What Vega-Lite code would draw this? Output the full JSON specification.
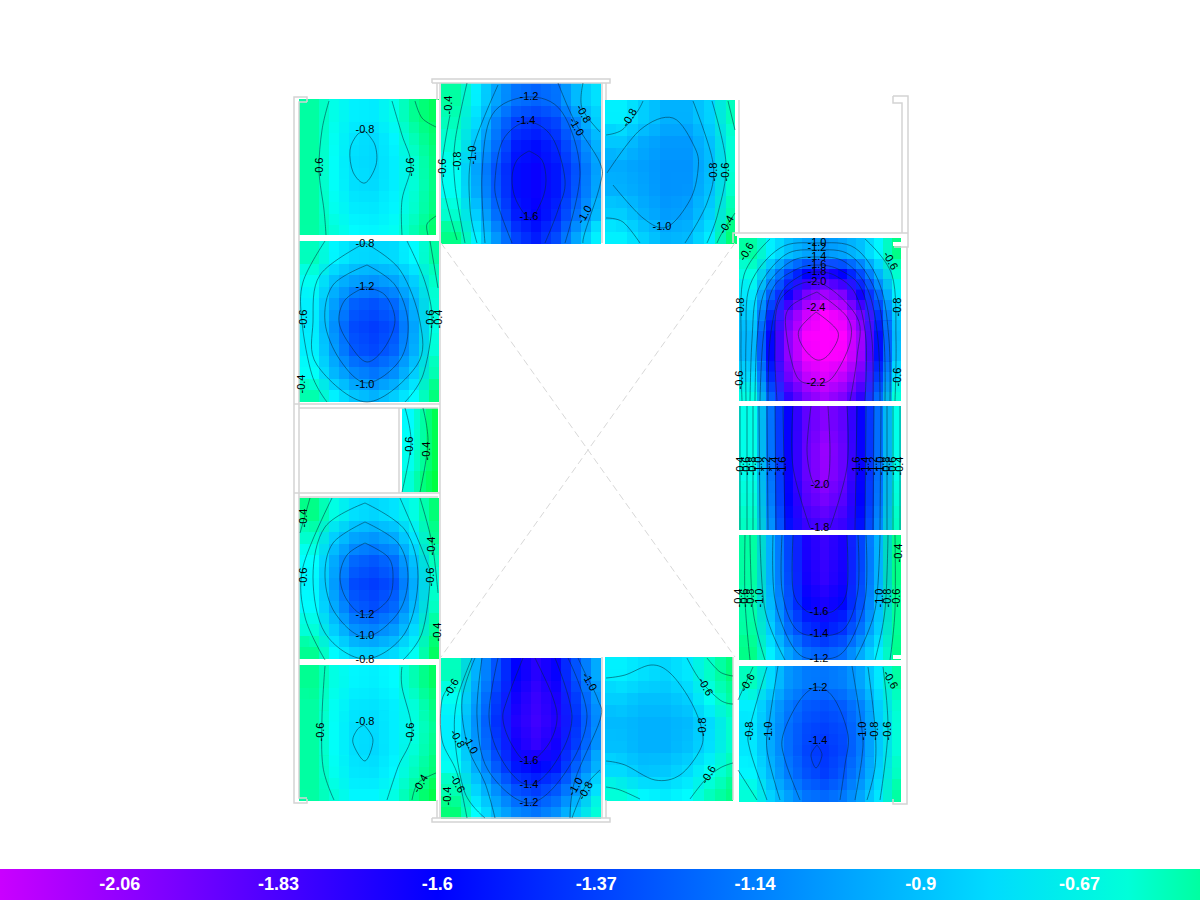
{"$schema":"https://vega.github.io/schema/vega-lite/v6.json","width":1200,"height":900,"padding":0,"autosize":"none","background":"white","config":{"view":{"stroke":null}},
"datasets":{
"p1":[
{"x":309,"y":110,"v":-0.5},{"x":329,"y":110,"v":-0.63},{"x":349,"y":110,"v":-0.72},{"x":369,"y":110,"v":-0.74},{"x":389,"y":110,"v":-0.63},{"x":409,"y":110,"v":-0.47},{"x":429,"y":110,"v":-0.37},
{"x":309,"y":133,"v":-0.5},{"x":329,"y":133,"v":-0.65},{"x":349,"y":133,"v":-0.77},{"x":369,"y":133,"v":-0.8},{"x":389,"y":133,"v":-0.7},{"x":409,"y":133,"v":-0.54},{"x":429,"y":133,"v":-0.41},
{"x":309,"y":156,"v":-0.5},{"x":329,"y":156,"v":-0.66},{"x":349,"y":156,"v":-0.79},{"x":369,"y":156,"v":-0.81},{"x":389,"y":156,"v":-0.73},{"x":409,"y":156,"v":-0.59},{"x":429,"y":156,"v":-0.44},
{"x":309,"y":179,"v":-0.5},{"x":329,"y":179,"v":-0.66},{"x":349,"y":179,"v":-0.78},{"x":369,"y":179,"v":-0.8},{"x":389,"y":179,"v":-0.73},{"x":409,"y":179,"v":-0.6},{"x":429,"y":179,"v":-0.45},
{"x":309,"y":202,"v":-0.5},{"x":329,"y":202,"v":-0.64},{"x":349,"y":202,"v":-0.74},{"x":369,"y":202,"v":-0.75},{"x":389,"y":202,"v":-0.7},{"x":409,"y":202,"v":-0.58},{"x":429,"y":202,"v":-0.44},
{"x":309,"y":225,"v":-0.5},{"x":329,"y":225,"v":-0.6},{"x":349,"y":225,"v":-0.68},{"x":369,"y":225,"v":-0.7},{"x":389,"y":225,"v":-0.65},{"x":409,"y":225,"v":-0.53},{"x":429,"y":225,"v":-0.4}],
"p2":[
{"x":451,"y":94,"v":-0.5},{"x":471,"y":94,"v":-0.72},{"x":491,"y":94,"v":-1.0},{"x":511,"y":94,"v":-1.18},{"x":531,"y":94,"v":-1.24},{"x":551,"y":94,"v":-1.18},{"x":571,"y":94,"v":-0.92},{"x":591,"y":94,"v":-0.78},
{"x":451,"y":117,"v":-0.55},{"x":471,"y":117,"v":-0.8},{"x":491,"y":117,"v":-1.13},{"x":511,"y":117,"v":-1.37},{"x":531,"y":117,"v":-1.43},{"x":551,"y":117,"v":-1.35},{"x":571,"y":117,"v":-1.1},{"x":591,"y":117,"v":-0.85},
{"x":451,"y":140,"v":-0.6},{"x":471,"y":140,"v":-0.9},{"x":491,"y":140,"v":-1.2},{"x":511,"y":140,"v":-1.5},{"x":531,"y":140,"v":-1.56},{"x":551,"y":140,"v":-1.46},{"x":571,"y":140,"v":-1.22},{"x":591,"y":140,"v":-0.95},
{"x":451,"y":163,"v":-0.65},{"x":471,"y":163,"v":-1.0},{"x":491,"y":163,"v":-1.3},{"x":511,"y":163,"v":-1.56},{"x":531,"y":163,"v":-1.63},{"x":551,"y":163,"v":-1.52},{"x":571,"y":163,"v":-1.3},{"x":591,"y":163,"v":-1.02},
{"x":451,"y":186,"v":-0.65},{"x":471,"y":186,"v":-0.97},{"x":491,"y":186,"v":-1.28},{"x":511,"y":186,"v":-1.56},{"x":531,"y":186,"v":-1.63},{"x":551,"y":186,"v":-1.52},{"x":571,"y":186,"v":-1.28},{"x":591,"y":186,"v":-1.0},
{"x":451,"y":209,"v":-0.58},{"x":471,"y":209,"v":-0.85},{"x":491,"y":209,"v":-1.2},{"x":511,"y":209,"v":-1.5},{"x":531,"y":209,"v":-1.6},{"x":551,"y":209,"v":-1.47},{"x":571,"y":209,"v":-1.18},{"x":591,"y":209,"v":-0.92},
{"x":451,"y":232,"v":-0.45},{"x":471,"y":232,"v":-0.72},{"x":491,"y":232,"v":-1.05},{"x":511,"y":232,"v":-1.36},{"x":531,"y":232,"v":-1.5},{"x":551,"y":232,"v":-1.33},{"x":571,"y":232,"v":-1.0},{"x":591,"y":232,"v":-0.72}],
"p3":[
{"x":616,"y":112,"v":-0.72},{"x":638,"y":112,"v":-0.85},{"x":660,"y":112,"v":-0.95},{"x":682,"y":112,"v":-0.95},{"x":704,"y":112,"v":-0.83},{"x":726,"y":112,"v":-0.55},
{"x":616,"y":136,"v":-0.87},{"x":638,"y":136,"v":-0.98},{"x":660,"y":136,"v":-1.04},{"x":682,"y":136,"v":-1.04},{"x":704,"y":136,"v":-0.9},{"x":726,"y":136,"v":-0.6},
{"x":616,"y":160,"v":-0.98},{"x":638,"y":160,"v":-1.02},{"x":660,"y":160,"v":-1.06},{"x":682,"y":160,"v":-1.06},{"x":704,"y":160,"v":-0.92},{"x":726,"y":160,"v":-0.6},
{"x":616,"y":184,"v":-0.95},{"x":638,"y":184,"v":-1.0},{"x":660,"y":184,"v":-1.06},{"x":682,"y":184,"v":-1.05},{"x":704,"y":184,"v":-0.9},{"x":726,"y":184,"v":-0.58},
{"x":616,"y":208,"v":-0.85},{"x":638,"y":208,"v":-0.95},{"x":660,"y":208,"v":-1.03},{"x":682,"y":208,"v":-1.0},{"x":704,"y":208,"v":-0.84},{"x":726,"y":208,"v":-0.52},
{"x":616,"y":232,"v":-0.72},{"x":638,"y":232,"v":-0.84},{"x":660,"y":232,"v":-0.95},{"x":682,"y":232,"v":-0.92},{"x":704,"y":232,"v":-0.74},{"x":726,"y":232,"v":-0.42}],
"p4":[
{"x":309,"y":252,"v":-0.55},{"x":329,"y":252,"v":-0.7},{"x":349,"y":252,"v":-0.8},{"x":369,"y":252,"v":-0.82},{"x":389,"y":252,"v":-0.8},{"x":409,"y":252,"v":-0.68},{"x":429,"y":252,"v":-0.5},
{"x":309,"y":275,"v":-0.65},{"x":329,"y":275,"v":-0.9},{"x":349,"y":275,"v":-1.02},{"x":369,"y":275,"v":-1.06},{"x":389,"y":275,"v":-1.0},{"x":409,"y":275,"v":-0.84},{"x":429,"y":275,"v":-0.57},
{"x":309,"y":298,"v":-0.72},{"x":329,"y":298,"v":-1.02},{"x":349,"y":298,"v":-1.25},{"x":369,"y":298,"v":-1.3},{"x":389,"y":298,"v":-1.22},{"x":409,"y":298,"v":-0.95},{"x":429,"y":298,"v":-0.6},
{"x":309,"y":321,"v":-0.74},{"x":329,"y":321,"v":-1.08},{"x":349,"y":321,"v":-1.33},{"x":369,"y":321,"v":-1.38},{"x":389,"y":321,"v":-1.3},{"x":409,"y":321,"v":-1.0},{"x":429,"y":321,"v":-0.62},
{"x":309,"y":344,"v":-0.72},{"x":329,"y":344,"v":-1.03},{"x":349,"y":344,"v":-1.28},{"x":369,"y":344,"v":-1.34},{"x":389,"y":344,"v":-1.24},{"x":409,"y":344,"v":-0.96},{"x":429,"y":344,"v":-0.6},
{"x":309,"y":367,"v":-0.66},{"x":329,"y":367,"v":-0.93},{"x":349,"y":367,"v":-1.1},{"x":369,"y":367,"v":-1.17},{"x":389,"y":367,"v":-1.08},{"x":409,"y":367,"v":-0.85},{"x":429,"y":367,"v":-0.53},
{"x":309,"y":390,"v":-0.52},{"x":329,"y":390,"v":-0.72},{"x":349,"y":390,"v":-0.88},{"x":369,"y":390,"v":-0.95},{"x":389,"y":390,"v":-0.85},{"x":409,"y":390,"v":-0.68},{"x":429,"y":390,"v":-0.43}],
"p5":[
{"x":408,"y":418,"v":-0.68},{"x":420,"y":418,"v":-0.5},{"x":432,"y":418,"v":-0.35},
{"x":408,"y":439,"v":-0.66},{"x":420,"y":439,"v":-0.5},{"x":432,"y":439,"v":-0.35},
{"x":408,"y":460,"v":-0.64},{"x":420,"y":460,"v":-0.48},{"x":432,"y":460,"v":-0.34},
{"x":408,"y":481,"v":-0.6},{"x":420,"y":481,"v":-0.43},{"x":432,"y":481,"v":-0.32}],
"p6":[
{"x":309,"y":509,"v":-0.45},{"x":329,"y":509,"v":-0.62},{"x":349,"y":509,"v":-0.78},{"x":369,"y":509,"v":-0.82},{"x":389,"y":509,"v":-0.77},{"x":409,"y":509,"v":-0.62},{"x":429,"y":509,"v":-0.42},
{"x":309,"y":532,"v":-0.58},{"x":329,"y":532,"v":-0.84},{"x":349,"y":532,"v":-1.0},{"x":369,"y":532,"v":-1.05},{"x":389,"y":532,"v":-0.98},{"x":409,"y":532,"v":-0.76},{"x":429,"y":532,"v":-0.47},
{"x":309,"y":555,"v":-0.67},{"x":329,"y":555,"v":-0.98},{"x":349,"y":555,"v":-1.22},{"x":369,"y":555,"v":-1.28},{"x":389,"y":555,"v":-1.2},{"x":409,"y":555,"v":-0.9},{"x":429,"y":555,"v":-0.55},
{"x":309,"y":578,"v":-0.7},{"x":329,"y":578,"v":-1.03},{"x":349,"y":578,"v":-1.33},{"x":369,"y":578,"v":-1.38},{"x":389,"y":578,"v":-1.3},{"x":409,"y":578,"v":-0.97},{"x":429,"y":578,"v":-0.6},
{"x":309,"y":601,"v":-0.68},{"x":329,"y":601,"v":-0.98},{"x":349,"y":601,"v":-1.25},{"x":369,"y":601,"v":-1.32},{"x":389,"y":601,"v":-1.22},{"x":409,"y":601,"v":-0.92},{"x":429,"y":601,"v":-0.56},
{"x":309,"y":624,"v":-0.6},{"x":329,"y":624,"v":-0.85},{"x":349,"y":624,"v":-1.06},{"x":369,"y":624,"v":-1.12},{"x":389,"y":624,"v":-1.03},{"x":409,"y":624,"v":-0.8},{"x":429,"y":624,"v":-0.48},
{"x":309,"y":647,"v":-0.47},{"x":329,"y":647,"v":-0.68},{"x":349,"y":647,"v":-0.82},{"x":369,"y":647,"v":-0.86},{"x":389,"y":647,"v":-0.8},{"x":409,"y":647,"v":-0.65},{"x":429,"y":647,"v":-0.38}],
"p7":[
{"x":309,"y":676,"v":-0.47},{"x":329,"y":676,"v":-0.62},{"x":349,"y":676,"v":-0.7},{"x":369,"y":676,"v":-0.72},{"x":389,"y":676,"v":-0.68},{"x":409,"y":676,"v":-0.53},{"x":429,"y":676,"v":-0.38},
{"x":309,"y":699,"v":-0.5},{"x":329,"y":699,"v":-0.65},{"x":349,"y":699,"v":-0.75},{"x":369,"y":699,"v":-0.77},{"x":389,"y":699,"v":-0.72},{"x":409,"y":699,"v":-0.6},{"x":429,"y":699,"v":-0.44},
{"x":309,"y":721,"v":-0.5},{"x":329,"y":721,"v":-0.66},{"x":349,"y":721,"v":-0.78},{"x":369,"y":721,"v":-0.8},{"x":389,"y":721,"v":-0.73},{"x":409,"y":721,"v":-0.62},{"x":429,"y":721,"v":-0.48},
{"x":309,"y":744,"v":-0.5},{"x":329,"y":744,"v":-0.66},{"x":349,"y":744,"v":-0.78},{"x":369,"y":744,"v":-0.81},{"x":389,"y":744,"v":-0.73},{"x":409,"y":744,"v":-0.6},{"x":429,"y":744,"v":-0.46},
{"x":309,"y":766,"v":-0.5},{"x":329,"y":766,"v":-0.64},{"x":349,"y":766,"v":-0.75},{"x":369,"y":766,"v":-0.77},{"x":389,"y":766,"v":-0.69},{"x":409,"y":766,"v":-0.55},{"x":429,"y":766,"v":-0.42},
{"x":309,"y":789,"v":-0.5},{"x":329,"y":789,"v":-0.6},{"x":349,"y":789,"v":-0.7},{"x":369,"y":789,"v":-0.7},{"x":389,"y":789,"v":-0.62},{"x":409,"y":789,"v":-0.47},{"x":429,"y":789,"v":-0.34}],
"p8":[
{"x":451,"y":669,"v":-0.55},{"x":471,"y":669,"v":-0.95},{"x":491,"y":669,"v":-1.3},{"x":511,"y":669,"v":-1.6},{"x":531,"y":669,"v":-1.72},{"x":551,"y":669,"v":-1.62},{"x":571,"y":669,"v":-1.3},{"x":591,"y":669,"v":-0.98},
{"x":451,"y":692,"v":-0.65},{"x":471,"y":692,"v":-1.02},{"x":491,"y":692,"v":-1.38},{"x":511,"y":692,"v":-1.66},{"x":531,"y":692,"v":-1.78},{"x":551,"y":692,"v":-1.68},{"x":571,"y":692,"v":-1.38},{"x":591,"y":692,"v":-1.05},
{"x":451,"y":715,"v":-0.72},{"x":471,"y":715,"v":-1.07},{"x":491,"y":715,"v":-1.42},{"x":511,"y":715,"v":-1.7},{"x":531,"y":715,"v":-1.8},{"x":551,"y":715,"v":-1.7},{"x":571,"y":715,"v":-1.42},{"x":591,"y":715,"v":-1.1},
{"x":451,"y":738,"v":-0.72},{"x":471,"y":738,"v":-1.05},{"x":491,"y":738,"v":-1.38},{"x":511,"y":738,"v":-1.66},{"x":531,"y":738,"v":-1.76},{"x":551,"y":738,"v":-1.66},{"x":571,"y":738,"v":-1.38},{"x":591,"y":738,"v":-1.07},
{"x":451,"y":761,"v":-0.65},{"x":471,"y":761,"v":-0.97},{"x":491,"y":761,"v":-1.27},{"x":511,"y":761,"v":-1.52},{"x":531,"y":761,"v":-1.6},{"x":551,"y":761,"v":-1.52},{"x":571,"y":761,"v":-1.25},{"x":591,"y":761,"v":-0.95},
{"x":451,"y":784,"v":-0.53},{"x":471,"y":784,"v":-0.82},{"x":491,"y":784,"v":-1.08},{"x":511,"y":784,"v":-1.3},{"x":531,"y":784,"v":-1.38},{"x":551,"y":784,"v":-1.28},{"x":571,"y":784,"v":-1.05},{"x":591,"y":784,"v":-0.78},
{"x":451,"y":807,"v":-0.42},{"x":471,"y":807,"v":-0.67},{"x":491,"y":807,"v":-0.92},{"x":511,"y":807,"v":-1.1},{"x":531,"y":807,"v":-1.18},{"x":551,"y":807,"v":-1.08},{"x":571,"y":807,"v":-0.85},{"x":591,"y":807,"v":-0.6}],
"p9":[
{"x":616,"y":669,"v":-0.72},{"x":638,"y":669,"v":-0.78},{"x":660,"y":669,"v":-0.82},{"x":682,"y":669,"v":-0.75},{"x":704,"y":669,"v":-0.57},{"x":726,"y":669,"v":-0.43},
{"x":616,"y":693,"v":-0.84},{"x":638,"y":693,"v":-0.9},{"x":660,"y":693,"v":-0.9},{"x":682,"y":693,"v":-0.84},{"x":704,"y":693,"v":-0.65},{"x":726,"y":693,"v":-0.5},
{"x":616,"y":717,"v":-0.92},{"x":638,"y":717,"v":-0.95},{"x":660,"y":717,"v":-0.95},{"x":682,"y":717,"v":-0.92},{"x":704,"y":717,"v":-0.8},{"x":726,"y":717,"v":-0.58},
{"x":616,"y":741,"v":-0.9},{"x":638,"y":741,"v":-0.95},{"x":660,"y":741,"v":-0.95},{"x":682,"y":741,"v":-0.9},{"x":704,"y":741,"v":-0.78},{"x":726,"y":741,"v":-0.58},
{"x":616,"y":765,"v":-0.8},{"x":638,"y":765,"v":-0.88},{"x":660,"y":765,"v":-0.87},{"x":682,"y":765,"v":-0.8},{"x":704,"y":765,"v":-0.65},{"x":726,"y":765,"v":-0.53},
{"x":616,"y":789,"v":-0.6},{"x":638,"y":789,"v":-0.7},{"x":660,"y":789,"v":-0.74},{"x":682,"y":789,"v":-0.68},{"x":704,"y":789,"v":-0.55},{"x":726,"y":789,"v":-0.45}],
"p10":[
{"x":748,"y":248,"v":-0.5},{"x":766,"y":248,"v":-0.72},{"x":784,"y":248,"v":-0.9},{"x":802,"y":248,"v":-1.0},{"x":820,"y":248,"v":-1.05},{"x":838,"y":248,"v":-1.0},{"x":856,"y":248,"v":-0.9},{"x":874,"y":248,"v":-0.7},{"x":892,"y":248,"v":-0.45},
{"x":748,"y":269,"v":-0.62},{"x":766,"y":269,"v":-1.0},{"x":784,"y":269,"v":-1.35},{"x":802,"y":269,"v":-1.6},{"x":820,"y":269,"v":-1.72},{"x":838,"y":269,"v":-1.6},{"x":856,"y":269,"v":-1.32},{"x":874,"y":269,"v":-0.95},{"x":892,"y":269,"v":-0.58},
{"x":748,"y":289,"v":-0.75},{"x":766,"y":289,"v":-1.25},{"x":784,"y":289,"v":-1.65},{"x":802,"y":289,"v":-1.98},{"x":820,"y":289,"v":-2.12},{"x":838,"y":289,"v":-2.0},{"x":856,"y":289,"v":-1.65},{"x":874,"y":289,"v":-1.22},{"x":892,"y":289,"v":-0.72},
{"x":748,"y":310,"v":-0.85},{"x":766,"y":310,"v":-1.45},{"x":784,"y":310,"v":-1.95},{"x":802,"y":310,"v":-2.25},{"x":820,"y":310,"v":-2.4},{"x":838,"y":310,"v":-2.3},{"x":856,"y":310,"v":-1.95},{"x":874,"y":310,"v":-1.42},{"x":892,"y":310,"v":-0.85},
{"x":748,"y":330,"v":-0.93},{"x":766,"y":330,"v":-1.58},{"x":784,"y":330,"v":-2.05},{"x":802,"y":330,"v":-2.38},{"x":820,"y":330,"v":-2.52},{"x":838,"y":330,"v":-2.42},{"x":856,"y":330,"v":-2.1},{"x":874,"y":330,"v":-1.55},{"x":892,"y":330,"v":-0.92},
{"x":748,"y":351,"v":-0.93},{"x":766,"y":351,"v":-1.58},{"x":784,"y":351,"v":-2.05},{"x":802,"y":351,"v":-2.35},{"x":820,"y":351,"v":-2.48},{"x":838,"y":351,"v":-2.38},{"x":856,"y":351,"v":-2.08},{"x":874,"y":351,"v":-1.55},{"x":892,"y":351,"v":-0.9},
{"x":748,"y":371,"v":-0.8},{"x":766,"y":371,"v":-1.45},{"x":784,"y":371,"v":-1.95},{"x":802,"y":371,"v":-2.2},{"x":820,"y":371,"v":-2.3},{"x":838,"y":371,"v":-2.2},{"x":856,"y":371,"v":-1.95},{"x":874,"y":371,"v":-1.4},{"x":892,"y":371,"v":-0.78},
{"x":748,"y":392,"v":-0.62},{"x":766,"y":392,"v":-1.25},{"x":784,"y":392,"v":-1.75},{"x":802,"y":392,"v":-2.0},{"x":820,"y":392,"v":-2.12},{"x":838,"y":392,"v":-2.0},{"x":856,"y":392,"v":-1.75},{"x":874,"y":392,"v":-1.22},{"x":892,"y":392,"v":-0.6}],
"p11":[
{"x":748,"y":418,"v":-0.63},{"x":766,"y":418,"v":-1.18},{"x":784,"y":418,"v":-1.62},{"x":802,"y":418,"v":-1.9},{"x":820,"y":418,"v":-2.02},{"x":838,"y":418,"v":-1.9},{"x":856,"y":418,"v":-1.62},{"x":874,"y":418,"v":-1.2},{"x":892,"y":418,"v":-0.63},
{"x":748,"y":443,"v":-0.63},{"x":766,"y":443,"v":-1.18},{"x":784,"y":443,"v":-1.62},{"x":802,"y":443,"v":-1.92},{"x":820,"y":443,"v":-2.08},{"x":838,"y":443,"v":-1.93},{"x":856,"y":443,"v":-1.62},{"x":874,"y":443,"v":-1.2},{"x":892,"y":443,"v":-0.63},
{"x":748,"y":468,"v":-0.63},{"x":766,"y":468,"v":-1.18},{"x":784,"y":468,"v":-1.62},{"x":802,"y":468,"v":-1.92},{"x":820,"y":468,"v":-2.07},{"x":838,"y":468,"v":-1.93},{"x":856,"y":468,"v":-1.62},{"x":874,"y":468,"v":-1.2},{"x":892,"y":468,"v":-0.63},
{"x":748,"y":493,"v":-0.6},{"x":766,"y":493,"v":-1.15},{"x":784,"y":493,"v":-1.6},{"x":802,"y":493,"v":-1.87},{"x":820,"y":493,"v":-1.98},{"x":838,"y":493,"v":-1.87},{"x":856,"y":493,"v":-1.6},{"x":874,"y":493,"v":-1.17},{"x":892,"y":493,"v":-0.6},
{"x":748,"y":518,"v":-0.56},{"x":766,"y":518,"v":-1.08},{"x":784,"y":518,"v":-1.55},{"x":802,"y":518,"v":-1.78},{"x":820,"y":518,"v":-1.84},{"x":838,"y":518,"v":-1.78},{"x":856,"y":518,"v":-1.55},{"x":874,"y":518,"v":-1.1},{"x":892,"y":518,"v":-0.56}],
"p12":[
{"x":748,"y":547,"v":-0.5},{"x":766,"y":547,"v":-0.95},{"x":784,"y":547,"v":-1.35},{"x":802,"y":547,"v":-1.68},{"x":820,"y":547,"v":-1.78},{"x":838,"y":547,"v":-1.68},{"x":856,"y":547,"v":-1.35},{"x":874,"y":547,"v":-0.95},{"x":892,"y":547,"v":-0.45},
{"x":748,"y":572,"v":-0.5},{"x":766,"y":572,"v":-0.95},{"x":784,"y":572,"v":-1.33},{"x":802,"y":572,"v":-1.66},{"x":820,"y":572,"v":-1.76},{"x":838,"y":572,"v":-1.66},{"x":856,"y":572,"v":-1.33},{"x":874,"y":572,"v":-0.95},{"x":892,"y":572,"v":-0.45},
{"x":748,"y":597,"v":-0.52},{"x":766,"y":597,"v":-0.92},{"x":784,"y":597,"v":-1.3},{"x":802,"y":597,"v":-1.58},{"x":820,"y":597,"v":-1.68},{"x":838,"y":597,"v":-1.58},{"x":856,"y":597,"v":-1.3},{"x":874,"y":597,"v":-0.92},{"x":892,"y":597,"v":-0.48},
{"x":748,"y":622,"v":-0.5},{"x":766,"y":622,"v":-0.85},{"x":784,"y":622,"v":-1.2},{"x":802,"y":622,"v":-1.42},{"x":820,"y":622,"v":-1.52},{"x":838,"y":622,"v":-1.42},{"x":856,"y":622,"v":-1.18},{"x":874,"y":622,"v":-0.85},{"x":892,"y":622,"v":-0.48},
{"x":748,"y":647,"v":-0.45},{"x":766,"y":647,"v":-0.72},{"x":784,"y":647,"v":-1.0},{"x":802,"y":647,"v":-1.2},{"x":820,"y":647,"v":-1.26},{"x":838,"y":647,"v":-1.2},{"x":856,"y":647,"v":-0.98},{"x":874,"y":647,"v":-0.72},{"x":892,"y":647,"v":-0.46}],
"p13":[
{"x":748,"y":677,"v":-0.55},{"x":766,"y":677,"v":-0.8},{"x":784,"y":677,"v":-1.05},{"x":802,"y":677,"v":-1.15},{"x":820,"y":677,"v":-1.17},{"x":838,"y":677,"v":-1.13},{"x":856,"y":677,"v":-1.0},{"x":874,"y":677,"v":-0.75},{"x":892,"y":677,"v":-0.5},
{"x":748,"y":700,"v":-0.72},{"x":766,"y":700,"v":-0.95},{"x":784,"y":700,"v":-1.15},{"x":802,"y":700,"v":-1.27},{"x":820,"y":700,"v":-1.3},{"x":838,"y":700,"v":-1.26},{"x":856,"y":700,"v":-1.12},{"x":874,"y":700,"v":-0.85},{"x":892,"y":700,"v":-0.58},
{"x":748,"y":722,"v":-0.76},{"x":766,"y":722,"v":-0.98},{"x":784,"y":722,"v":-1.2},{"x":802,"y":722,"v":-1.33},{"x":820,"y":722,"v":-1.37},{"x":838,"y":722,"v":-1.32},{"x":856,"y":722,"v":-1.15},{"x":874,"y":722,"v":-0.87},{"x":892,"y":722,"v":-0.6},
{"x":748,"y":745,"v":-0.75},{"x":766,"y":745,"v":-0.98},{"x":784,"y":745,"v":-1.2},{"x":802,"y":745,"v":-1.35},{"x":820,"y":745,"v":-1.41},{"x":838,"y":745,"v":-1.34},{"x":856,"y":745,"v":-1.15},{"x":874,"y":745,"v":-0.87},{"x":892,"y":745,"v":-0.6},
{"x":748,"y":767,"v":-0.7},{"x":766,"y":767,"v":-0.93},{"x":784,"y":767,"v":-1.15},{"x":802,"y":767,"v":-1.3},{"x":820,"y":767,"v":-1.38},{"x":838,"y":767,"v":-1.28},{"x":856,"y":767,"v":-1.1},{"x":874,"y":767,"v":-0.83},{"x":892,"y":767,"v":-0.56},
{"x":748,"y":790,"v":-0.6},{"x":766,"y":790,"v":-0.83},{"x":784,"y":790,"v":-1.02},{"x":802,"y":790,"v":-1.18},{"x":820,"y":790,"v":-1.22},{"x":838,"y":790,"v":-1.16},{"x":856,"y":790,"v":-1.0},{"x":874,"y":790,"v":-0.76},{"x":892,"y":790,"v":-0.5}],
"masks":[
{"c":"a","x":438,"y":100},{"c":"a","x":438,"y":238},{"c":"b","x":438,"y":664},{"c":"b","x":438,"y":801},
{"c":"c","x":737,"y":99},{"c":"c","x":737,"y":236},{"c":"d","x":735,"y":656},{"c":"d","x":735,"y":801},
{"c":"e","x":893,"y":244},{"c":"e","x":903,"y":244},{"c":"f","x":893,"y":657},{"c":"f","x":907,"y":657},
{"c":"g","x":299,"y":237},{"c":"g","x":440,"y":237},{"c":"h","x":298,"y":663},{"c":"h","x":440,"y":663},
{"c":"i","x":736,"y":403},{"c":"i","x":906,"y":403},{"c":"j","x":736,"y":532},{"c":"j","x":906,"y":532},{"c":"k","x":736,"y":663},{"c":"k","x":906,"y":663},
{"c":"l","x":904,"y":238},{"c":"l","x":904,"y":803}],
"diag":[{"c":"a","x":441,"y":243},{"c":"a","x":735,"y":657},{"c":"b","x":735,"y":243},{"c":"b","x":441,"y":657}],
"walls":[
{"c":"a","x":307,"y":102},{"c":"a","x":307,"y":97},{"c":"a","x":294,"y":97},{"c":"a","x":294,"y":803},{"c":"a","x":307,"y":803},{"c":"a","x":307,"y":799},
{"c":"b","x":307,"y":102},{"c":"b","x":299,"y":102},{"c":"b","x":299,"y":798},{"c":"b","x":307,"y":798},
{"c":"c","x":294,"y":404},{"c":"c","x":440,"y":404},{"c":"d","x":299,"y":408},{"c":"d","x":438,"y":408},
{"c":"e","x":399,"y":408},{"c":"e","x":399,"y":493},{"c":"f","x":294,"y":493},{"c":"f","x":440,"y":493},{"c":"g","x":299,"y":497},{"c":"g","x":438,"y":497},
{"c":"h","x":432,"y":83},{"c":"h","x":432,"y":79},{"c":"h","x":610,"y":79},{"c":"h","x":610,"y":83},{"c":"h","x":432,"y":83},
{"c":"i","x":432,"y":818},{"c":"i","x":432,"y":822},{"c":"i","x":610,"y":822},{"c":"i","x":610,"y":818},{"c":"i","x":432,"y":818},
{"c":"j","x":437,"y":83},{"c":"j","x":437,"y":100},{"c":"k","x":440,"y":83},{"c":"k","x":440,"y":818},
{"c":"l","x":602,"y":83},{"c":"l","x":602,"y":243},{"c":"m","x":606,"y":83},{"c":"m","x":606,"y":100},{"c":"n","x":602,"y":657},{"c":"n","x":602,"y":818},{"c":"o","x":606,"y":800},{"c":"o","x":606,"y":818},
{"c":"p","x":437,"y":800},{"c":"p","x":437,"y":818},
{"c":"r","x":739,"y":100},{"c":"r","x":739,"y":233},
{"c":"s","x":733,"y":243},{"c":"s","x":733,"y":233},{"c":"s","x":908,"y":233},
{"c":"u","x":893,"y":96},{"c":"u","x":908,"y":96},{"c":"u","x":908,"y":247},{"c":"u","x":894,"y":247},
{"c":"v","x":893,"y":96},{"c":"v","x":893,"y":103},{"c":"v","x":902,"y":103},{"c":"v","x":902,"y":233},
{"c":"w","x":907,"y":247},{"c":"w","x":907,"y":804},{"c":"w","x":893,"y":804},{"c":"w","x":893,"y":799},
{"c":"x","x":733,"y":657},{"c":"x","x":733,"y":800}],
"contours":[
{"c":"a1","x":329,"y":101},{"c":"a1","x":322,"y":130},{"c":"a1","x":319,"y":170},{"c":"a1","x":324,"y":210},{"c":"a1","x":326,"y":235},
{"c":"a2","x":392,"y":101},{"c":"a2","x":402,"y":135},{"c":"a2","x":411,"y":165},{"c":"a2","x":402,"y":200},{"c":"a2","x":402,"y":235},
{"c":"a3","x":365,"y":131},{"c":"a3","x":375,"y":145},{"c":"a3","x":376,"y":165},{"c":"a3","x":365,"y":183},{"c":"a3","x":353,"y":172},{"c":"a3","x":350,"y":150},{"c":"a3","x":357,"y":135},{"c":"a3","x":365,"y":131},
{"c":"a4","x":415,"y":101},{"c":"a4","x":422,"y":118},{"c":"a4","x":436,"y":127},
{"c":"a5","x":428,"y":235},{"c":"a5","x":427,"y":224},{"c":"a5","x":436,"y":216},
{"c":"b1","x":529,"y":151},{"c":"b1","x":542,"y":160},{"c":"b1","x":546,"y":180},{"c":"b1","x":542,"y":200},{"c":"b1","x":530,"y":218},{"c":"b1","x":516,"y":200},{"c":"b1","x":512,"y":178},{"c":"b1","x":517,"y":160},{"c":"b1","x":529,"y":151},
{"c":"b2","x":512,"y":243},{"c":"b2","x":498,"y":205},{"c":"b2","x":495,"y":180},{"c":"b2","x":503,"y":140},{"c":"b2","x":527,"y":122},{"c":"b2","x":552,"y":137},{"c":"b2","x":565,"y":180},{"c":"b2","x":558,"y":210},{"c":"b2","x":545,"y":243},
{"c":"b3","x":485,"y":243},{"c":"b3","x":482,"y":175},{"c":"b3","x":492,"y":115},{"c":"b3","x":528,"y":97},{"c":"b3","x":562,"y":112},{"c":"b3","x":580,"y":172},{"c":"b3","x":565,"y":243},
{"c":"b4","x":477,"y":243},{"c":"b4","x":470,"y":208},{"c":"b4","x":472,"y":152},{"c":"b4","x":498,"y":85},
{"c":"b5","x":558,"y":83},{"c":"b5","x":575,"y":122},{"c":"b5","x":600,"y":163},{"c":"b5","x":600,"y":185},{"c":"b5","x":585,"y":232},{"c":"b5","x":583,"y":243},
{"c":"b6","x":467,"y":83},{"c":"b6","x":455,"y":142},{"c":"b6","x":455,"y":185},{"c":"b6","x":465,"y":243},
{"c":"b7","x":583,"y":83},{"c":"b7","x":582,"y":108},{"c":"b7","x":600,"y":132},
{"c":"b8","x":450,"y":115},{"c":"b8","x":442,"y":165},{"c":"b8","x":445,"y":195},{"c":"b8","x":457,"y":240},
{"c":"c1","x":607,"y":173},{"c":"c1","x":640,"y":130},{"c":"c1","x":673,"y":118},{"c":"c1","x":695,"y":148},{"c":"c1","x":698,"y":170},{"c":"c1","x":690,"y":200},{"c":"c1","x":667,"y":227},{"c":"c1","x":643,"y":218},{"c":"c1","x":613,"y":185},
{"c":"c2","x":606,"y":135},{"c":"c2","x":622,"y":130},{"c":"c2","x":637,"y":112},{"c":"c2","x":643,"y":101},
{"c":"c3","x":693,"y":101},{"c":"c3","x":713,"y":163},{"c":"c3","x":707,"y":203},{"c":"c3","x":685,"y":243},
{"c":"c4","x":712,"y":101},{"c":"c4","x":726,"y":163},{"c":"c4","x":718,"y":213},{"c":"c4","x":707,"y":243},
{"c":"c5","x":728,"y":101},{"c":"c5","x":735,"y":130},
{"c":"c6","x":735,"y":213},{"c":"c6","x":722,"y":233},{"c":"c6","x":717,"y":243},
{"c":"c7","x":606,"y":218},{"c":"c7","x":623,"y":222},{"c":"c7","x":640,"y":243},
{"c":"d1","x":365,"y":287},{"c":"d1","x":385,"y":295},{"c":"d1","x":395,"y":320},{"c":"d1","x":385,"y":347},{"c":"d1","x":367,"y":362},{"c":"d1","x":350,"y":345},{"c":"d1","x":339,"y":322},{"c":"d1","x":345,"y":300},{"c":"d1","x":365,"y":287},
{"c":"d2","x":367,"y":265},{"c":"d2","x":395,"y":285},{"c":"d2","x":408,"y":322},{"c":"d2","x":400,"y":360},{"c":"d2","x":367,"y":383},{"c":"d2","x":340,"y":360},{"c":"d2","x":325,"y":322},{"c":"d2","x":333,"y":285},{"c":"d2","x":367,"y":265},
{"c":"d3","x":365,"y":243},{"c":"d3","x":400,"y":270},{"c":"d3","x":420,"y":322},{"c":"d3","x":417,"y":365},{"c":"d3","x":367,"y":402},{"c":"d3","x":317,"y":365},{"c":"d3","x":313,"y":322},{"c":"d3","x":320,"y":275},{"c":"d3","x":365,"y":243},
{"c":"d4","x":325,"y":241},{"c":"d4","x":303,"y":282},{"c":"d4","x":302,"y":322},{"c":"d4","x":312,"y":375},{"c":"d4","x":327,"y":402},
{"c":"d5","x":407,"y":241},{"c":"d5","x":425,"y":282},{"c":"d5","x":432,"y":322},{"c":"d5","x":423,"y":375},{"c":"d5","x":405,"y":402},
{"c":"d6","x":430,"y":241},{"c":"d6","x":438,"y":288},
{"c":"e1","x":405,"y":408},{"c":"e1","x":411,"y":443},{"c":"e1","x":402,"y":492},
{"c":"e2","x":423,"y":408},{"c":"e2","x":428,"y":443},{"c":"e2","x":420,"y":492},
{"c":"f1","x":365,"y":543},{"c":"f1","x":388,"y":557},{"c":"f1","x":393,"y":577},{"c":"f1","x":388,"y":600},{"c":"f1","x":365,"y":615},{"c":"f1","x":347,"y":600},{"c":"f1","x":340,"y":577},{"c":"f1","x":347,"y":555},{"c":"f1","x":365,"y":543},
{"c":"f2","x":365,"y":522},{"c":"f2","x":398,"y":543},{"c":"f2","x":408,"y":577},{"c":"f2","x":398,"y":613},{"c":"f2","x":365,"y":637},{"c":"f2","x":335,"y":613},{"c":"f2","x":325,"y":577},{"c":"f2","x":333,"y":543},{"c":"f2","x":365,"y":522},
{"c":"f3","x":365,"y":503},{"c":"f3","x":405,"y":530},{"c":"f3","x":418,"y":577},{"c":"f3","x":405,"y":633},{"c":"f3","x":365,"y":659},{"c":"f3","x":325,"y":633},{"c":"f3","x":313,"y":577},{"c":"f3","x":325,"y":527},{"c":"f3","x":365,"y":503},
{"c":"f4","x":332,"y":498},{"c":"f4","x":303,"y":567},{"c":"f4","x":305,"y":617},{"c":"f4","x":325,"y":660},
{"c":"f5","x":400,"y":498},{"c":"f5","x":425,"y":557},{"c":"f5","x":430,"y":580},{"c":"f5","x":422,"y":633},{"c":"f5","x":403,"y":660},
{"c":"f6","x":310,"y":498},{"c":"f6","x":300,"y":533},
{"c":"f7","x":420,"y":498},{"c":"f7","x":432,"y":543},{"c":"f7","x":438,"y":593},
{"c":"g1","x":325,"y":666},{"c":"g1","x":322,"y":717},{"c":"g1","x":323,"y":767},{"c":"g1","x":334,"y":800},
{"c":"g2","x":402,"y":667},{"c":"g2","x":402,"y":687},{"c":"g2","x":412,"y":733},{"c":"g2","x":398,"y":767},{"c":"g2","x":387,"y":800},
{"c":"g3","x":364,"y":725},{"c":"g3","x":373,"y":740},{"c":"g3","x":365,"y":761},{"c":"g3","x":353,"y":743},{"c":"g3","x":357,"y":730},{"c":"g3","x":364,"y":725},
{"c":"g4","x":412,"y":800},{"c":"g4","x":418,"y":783},{"c":"g4","x":436,"y":773},
{"c":"h1","x":523,"y":658},{"c":"h1","x":507,"y":700},{"c":"h1","x":503,"y":720},{"c":"h1","x":512,"y":745},{"c":"h1","x":528,"y":762},{"c":"h1","x":548,"y":745},{"c":"h1","x":557,"y":720},{"c":"h1","x":552,"y":695},{"c":"h1","x":535,"y":658},
{"c":"h2","x":498,"y":658},{"c":"h2","x":489,"y":717},{"c":"h2","x":502,"y":760},{"c":"h2","x":528,"y":785},{"c":"h2","x":555,"y":763},{"c":"h2","x":572,"y":717},{"c":"h2","x":555,"y":658},
{"c":"h3","x":482,"y":658},{"c":"h3","x":477,"y":717},{"c":"h3","x":488,"y":770},{"c":"h3","x":528,"y":803},{"c":"h3","x":565,"y":773},{"c":"h3","x":587,"y":717},{"c":"h3","x":568,"y":658},
{"c":"h4","x":475,"y":658},{"c":"h4","x":462,"y":700},{"c":"h4","x":468,"y":747},{"c":"h4","x":485,"y":783},{"c":"h4","x":495,"y":818},
{"c":"h5","x":570,"y":818},{"c":"h5","x":575,"y":780},{"c":"h5","x":600,"y":720},{"c":"h5","x":598,"y":700},{"c":"h5","x":585,"y":673},{"c":"h5","x":578,"y":658},
{"c":"h6","x":472,"y":658},{"c":"h6","x":457,"y":700},{"c":"h6","x":455,"y":740},{"c":"h6","x":465,"y":793},{"c":"h6","x":485,"y":818},
{"c":"h7","x":600,"y":770},{"c":"h7","x":585,"y":787},{"c":"h7","x":572,"y":818},
{"c":"h8","x":453,"y":683},{"c":"h8","x":442,"y":700},{"c":"h8","x":442,"y":740},{"c":"h8","x":457,"y":773},{"c":"h8","x":467,"y":818},
{"c":"i1","x":606,"y":678},{"c":"i1","x":625,"y":675},{"c":"i1","x":651,"y":665},{"c":"i1","x":670,"y":673},{"c":"i1","x":690,"y":700},{"c":"i1","x":702,"y":730},{"c":"i1","x":700,"y":750},{"c":"i1","x":680,"y":775},{"c":"i1","x":655,"y":780},{"c":"i1","x":625,"y":765},{"c":"i1","x":606,"y":761},
{"c":"i2","x":687,"y":658},{"c":"i2","x":700,"y":680},{"c":"i2","x":720,"y":700},{"c":"i2","x":733,"y":704},
{"c":"i3","x":690,"y":799},{"c":"i3","x":705,"y":780},{"c":"i3","x":720,"y":768},{"c":"i3","x":733,"y":763},
{"c":"i4","x":606,"y":787},{"c":"i4","x":620,"y":790},{"c":"i4","x":640,"y":799},
{"c":"i5","x":707,"y":658},{"c":"i5","x":720,"y":672},{"c":"i5","x":733,"y":676},
{"c":"j1","x":816,"y":312},{"c":"j1","x":838,"y":332},{"c":"j1","x":830,"y":353},{"c":"j1","x":817,"y":360},{"c":"j1","x":803,"y":347},{"c":"j1","x":799,"y":330},{"c":"j1","x":816,"y":312},
{"c":"j2","x":817,"y":292},{"c":"j2","x":847,"y":317},{"c":"j2","x":850,"y":343},{"c":"j2","x":833,"y":377},{"c":"j2","x":817,"y":383},{"c":"j2","x":797,"y":377},{"c":"j2","x":786,"y":330},{"c":"j2","x":790,"y":307},{"c":"j2","x":817,"y":292},
{"c":"j3","x":777,"y":401},{"c":"j3","x":775,"y":350},{"c":"j3","x":780,"y":300},{"c":"j3","x":817,"y":282},{"c":"j3","x":857,"y":317},{"c":"j3","x":857,"y":357},{"c":"j3","x":850,"y":401},
{"c":"j4","x":768,"y":401},{"c":"j4","x":770,"y":340},{"c":"j4","x":780,"y":295},{"c":"j4","x":800,"y":276},{"c":"j4","x":817,"y":272},{"c":"j4","x":836,"y":276},{"c":"j4","x":856,"y":295},{"c":"j4","x":866,"y":340},{"c":"j4","x":865,"y":401},
{"c":"j5","x":760,"y":401},{"c":"j5","x":763,"y":340},{"c":"j5","x":772,"y":290},{"c":"j5","x":795,"y":270},{"c":"j5","x":817,"y":265},{"c":"j5","x":840,"y":270},{"c":"j5","x":862,"y":290},{"c":"j5","x":872,"y":340},{"c":"j5","x":873,"y":401},
{"c":"j6","x":755,"y":401},{"c":"j6","x":757,"y":340},{"c":"j6","x":765,"y":290},{"c":"j6","x":790,"y":262},{"c":"j6","x":817,"y":257},{"c":"j6","x":845,"y":262},{"c":"j6","x":868,"y":290},{"c":"j6","x":878,"y":340},{"c":"j6","x":880,"y":401},
{"c":"j7","x":750,"y":401},{"c":"j7","x":752,"y":340},{"c":"j7","x":758,"y":290},{"c":"j7","x":785,"y":255},{"c":"j7","x":817,"y":250},{"c":"j7","x":850,"y":255},{"c":"j7","x":875,"y":290},{"c":"j7","x":884,"y":340},{"c":"j7","x":885,"y":401},
{"c":"j8","x":746,"y":401},{"c":"j8","x":746,"y":340},{"c":"j8","x":750,"y":285},{"c":"j8","x":780,"y":248},{"c":"j8","x":817,"y":243},{"c":"j8","x":855,"y":248},{"c":"j8","x":880,"y":285},{"c":"j8","x":889,"y":340},{"c":"j8","x":890,"y":401},
{"c":"j9","x":742,"y":401},{"c":"j9","x":741,"y":340},{"c":"j9","x":744,"y":275},{"c":"j9","x":770,"y":239},
{"c":"j10","x":865,"y":239},{"c":"j10","x":892,"y":275},{"c":"j10","x":896,"y":340},{"c":"j10","x":895,"y":401},
{"c":"k1","x":740,"y":406},{"c":"k1","x":740,"y":530},{"c":"k2","x":747,"y":406},{"c":"k2","x":747,"y":530},{"c":"k3","x":753,"y":406},{"c":"k3","x":753,"y":530},{"c":"k4","x":759,"y":406},{"c":"k4","x":760,"y":530},{"c":"k5","x":767,"y":406},{"c":"k5","x":768,"y":530},{"c":"k6","x":775,"y":406},{"c":"k6","x":776,"y":530},{"c":"k7","x":783,"y":406},{"c":"k7","x":785,"y":530},
{"c":"k8","x":900,"y":406},{"c":"k8","x":900,"y":530},{"c":"k9","x":893,"y":406},{"c":"k9","x":893,"y":530},{"c":"k10","x":887,"y":406},{"c":"k10","x":887,"y":530},{"c":"k11","x":881,"y":406},{"c":"k11","x":880,"y":530},{"c":"k12","x":874,"y":406},{"c":"k12","x":873,"y":530},{"c":"k13","x":866,"y":406},{"c":"k13","x":865,"y":530},{"c":"k14","x":857,"y":406},{"c":"k14","x":855,"y":530},
{"c":"k15","x":793,"y":406},{"c":"k15","x":793,"y":467},{"c":"k15","x":810,"y":528},{"c":"k16","x":847,"y":406},{"c":"k16","x":847,"y":467},{"c":"k16","x":830,"y":528},
{"c":"k17","x":811,"y":406},{"c":"k17","x":807,"y":450},{"c":"k17","x":812,"y":480},{"c":"k17","x":820,"y":487},{"c":"k17","x":828,"y":480},{"c":"k17","x":830,"y":450},{"c":"k17","x":828,"y":406},
{"c":"m1","x":793,"y":535},{"c":"m1","x":793,"y":590},{"c":"m1","x":805,"y":610},{"c":"m1","x":819,"y":613},{"c":"m1","x":835,"y":610},{"c":"m1","x":847,"y":590},{"c":"m1","x":847,"y":535},
{"c":"m2","x":782,"y":535},{"c":"m2","x":782,"y":590},{"c":"m2","x":795,"y":628},{"c":"m2","x":819,"y":636},{"c":"m2","x":845,"y":628},{"c":"m2","x":858,"y":590},{"c":"m2","x":858,"y":535},
{"c":"m3","x":773,"y":535},{"c":"m3","x":775,"y":600},{"c":"m3","x":795,"y":650},{"c":"m3","x":819,"y":659},{"c":"m3","x":845,"y":650},{"c":"m3","x":865,"y":600},{"c":"m3","x":866,"y":535},
{"c":"m4","x":760,"y":535},{"c":"m4","x":765,"y":610},{"c":"m4","x":785,"y":660},{"c":"m5","x":880,"y":535},{"c":"m5","x":875,"y":610},{"c":"m5","x":855,"y":660},
{"c":"m6","x":750,"y":535},{"c":"m6","x":753,"y":610},{"c":"m6","x":765,"y":660},{"c":"m7","x":888,"y":535},{"c":"m7","x":885,"y":610},{"c":"m7","x":875,"y":660},
{"c":"m8","x":745,"y":535},{"c":"m8","x":745,"y":600},{"c":"m8","x":750,"y":660},{"c":"m9","x":895,"y":535},{"c":"m9","x":895,"y":610},{"c":"m9","x":890,"y":660},
{"c":"n1","x":817,"y":745},{"c":"n1","x":822,"y":755},{"c":"n1","x":816,"y":768},{"c":"n1","x":811,"y":755},{"c":"n1","x":817,"y":745},
{"c":"n2","x":800,"y":800},{"c":"n2","x":785,"y":760},{"c":"n2","x":783,"y":735},{"c":"n2","x":800,"y":700},{"c":"n2","x":818,"y":687},{"c":"n2","x":835,"y":700},{"c":"n2","x":848,"y":735},{"c":"n2","x":845,"y":765},{"c":"n2","x":840,"y":800},
{"c":"n3","x":778,"y":666},{"c":"n3","x":770,"y":717},{"c":"n3","x":767,"y":750},{"c":"n3","x":780,"y":800},
{"c":"n4","x":852,"y":666},{"c":"n4","x":862,"y":730},{"c":"n4","x":862,"y":757},{"c":"n4","x":855,"y":800},
{"c":"n5","x":767,"y":667},{"c":"n5","x":750,"y":727},{"c":"n5","x":750,"y":750},{"c":"n5","x":767,"y":800},
{"c":"n6","x":868,"y":667},{"c":"n6","x":875,"y":727},{"c":"n6","x":875,"y":767},{"c":"n6","x":867,"y":800},
{"c":"n7","x":753,"y":667},{"c":"n7","x":738,"y":700},{"c":"n8","x":738,"y":770},{"c":"n8","x":757,"y":800},
{"c":"n9","x":883,"y":667},{"c":"n9","x":888,"y":730},{"c":"n9","x":880,"y":800}],
"lh":[
{"t":"-0.8","x":365,"y":130},{"t":"-1.2","x":529,"y":97},{"t":"-1.4","x":526,"y":121},{"t":"-1.6","x":529,"y":217},{"t":"-1.0","x":662,"y":227},{"t":"-0.8","x":365,"y":244},{"t":"-1.2","x":365,"y":287},{"t":"-1.0","x":365,"y":385},{"t":"-0.8","x":365,"y":660},{"t":"-1.2","x":365,"y":615},{"t":"-1.0","x":365,"y":636},{"t":"-0.8","x":365,"y":722},{"t":"-1.6","x":529,"y":761},{"t":"-1.4","x":529,"y":785},{"t":"-1.2","x":529,"y":803},
{"t":"-1.0","x":817,"y":243},{"t":"-1.2","x":817,"y":248},{"t":"-1.4","x":817,"y":257},{"t":"-1.6","x":817,"y":265},{"t":"-1.8","x":817,"y":272},{"t":"-2.0","x":817,"y":282},{"t":"-2.4","x":816,"y":308},{"t":"-2.2","x":816,"y":383},{"t":"-2.0","x":820,"y":485},{"t":"-1.8","x":820,"y":528},{"t":"-1.6","x":819,"y":612},{"t":"-1.4","x":819,"y":634},{"t":"-1.2","x":819,"y":659},{"t":"-1.2","x":818,"y":688},{"t":"-1.4","x":818,"y":741}],
"lv":[
{"t":"-0.6","x":320,"y":167},{"t":"-0.6","x":411,"y":167},{"t":"-0.4","x":449,"y":105},{"t":"-0.6","x":443,"y":168},{"t":"-0.8","x":458,"y":161},{"t":"-1.0","x":473,"y":155},{"t":"-0.8","x":714,"y":172},{"t":"-0.6","x":726,"y":172},{"t":"-0.6","x":304,"y":319},{"t":"-0.6","x":431,"y":319},{"t":"-0.4","x":439,"y":319},{"t":"-0.4","x":302,"y":384},{"t":"-0.6","x":410,"y":446},{"t":"-0.4","x":427,"y":451},{"t":"-0.4","x":304,"y":518},{"t":"-0.6","x":304,"y":577},{"t":"-0.6","x":431,"y":577},{"t":"-0.4","x":432,"y":546},{"t":"-0.4","x":438,"y":632},{"t":"-0.6","x":321,"y":732},{"t":"-0.6","x":411,"y":732},{"t":"-0.4","x":448,"y":796},
{"t":"-0.8","x":741,"y":307},{"t":"-0.8","x":898,"y":307},{"t":"-0.6","x":740,"y":380},{"t":"-0.6","x":898,"y":377},
{"t":"-0.4","x":741,"y":466},{"t":"-0.6","x":747,"y":466},{"t":"-0.8","x":753,"y":466},{"t":"-1.0","x":759,"y":466},{"t":"-1.2","x":767,"y":466},{"t":"-1.4","x":775,"y":466},{"t":"-1.6","x":783,"y":466},{"t":"-1.6","x":857,"y":466},{"t":"-1.4","x":866,"y":466},{"t":"-1.2","x":874,"y":466},{"t":"-1.0","x":881,"y":466},{"t":"-0.8","x":887,"y":466},{"t":"-0.6","x":893,"y":466},{"t":"-0.4","x":900,"y":466},
{"t":"-0.4","x":739,"y":598},{"t":"-0.6","x":745,"y":598},{"t":"-0.8","x":751,"y":598},{"t":"-1.0","x":760,"y":598},{"t":"-1.0","x":880,"y":598},{"t":"-0.8","x":888,"y":598},{"t":"-0.6","x":897,"y":598},{"t":"-0.4","x":899,"y":553},
{"t":"-0.8","x":750,"y":731},{"t":"-1.0","x":769,"y":731},{"t":"-1.0","x":863,"y":731},{"t":"-0.8","x":875,"y":731},{"t":"-0.6","x":888,"y":731},{"t":"-0.8","x":703,"y":727}],
"lp":[
{"t":"-0.8","x":583,"y":114},{"t":"-1.0","x":576,"y":127},{"t":"-0.6","x":890,"y":261},{"t":"-0.8","x":457,"y":739},{"t":"-1.0","x":470,"y":745},{"t":"-0.6","x":457,"y":784},{"t":"-1.0","x":589,"y":682},{"t":"-0.6","x":705,"y":687},{"t":"-0.6","x":890,"y":680}],
"ln":[
{"t":"-0.8","x":630,"y":118},{"t":"-0.4","x":727,"y":225},{"t":"-1.0","x":585,"y":215},{"t":"-0.6","x":747,"y":252},{"t":"-0.6","x":452,"y":688},{"t":"-1.0","x":576,"y":787},{"t":"-0.8","x":586,"y":791},{"t":"-0.4","x":421,"y":784},{"t":"-0.6","x":709,"y":775},{"t":"-0.6","x":748,"y":683}]
},
"encoding":{
"x":{"field":"x","type":"quantitative","axis":null,"scale":{"domain":[0,1200],"nice":false,"zero":false}},
"y":{"field":"y","type":"quantitative","axis":null,"scale":{"domain":[900,0],"nice":false,"zero":false}},
"color":{"field":"v","type":"quantitative","scale":{"domain":[-2.4,-1.6,-0.67,-0.2],"range":["#ff00ff","#0000ff","#00ffff","#00ff00"],"clamp":true,"interpolate":"rgb"},
"legend":{"type":"gradient","orient":"none","legendX":-115,"legendY":869,"direction":"horizontal","gradientLength":1519,"gradientThickness":31,"gradientStrokeWidth":0,"gradientOpacity":1,"values":[-2.06,-1.83,-1.6,-1.37,-1.14,-0.9,-0.67],"labelExpr":"''+datum.value","title":null,"labelColor":"#ffffff","labelFont":"Liberation Sans","labelFontSize":18,"labelFontWeight":"bold","labelOpacity":1,"labelOffset":-24,"labelOverlap":false}}
},
"layer":[
{"data":{"name":"p1"},"layer":[{"mark":{"type":"rect","width":20,"height":23,"yOffset":0.5}},{"transform":[{"filter":"datum.x<429"}],"mark":{"type":"rect","width":20,"height":23,"xOffset":10,"yOffset":0.5,"opacity":0.5}},{"transform":[{"filter":"datum.y<225"}],"mark":{"type":"rect","width":20,"height":23,"yOffset":11.5,"opacity":0.333}},{"transform":[{"filter":"datum.x<429&&datum.y<225"}],"mark":{"type":"rect","width":20,"height":23,"xOffset":10,"yOffset":11.5,"opacity":0.25}}]},
{"data":{"name":"p2"},"layer":[{"mark":{"type":"rect","width":20,"height":23,"yOffset":0.5}},{"transform":[{"filter":"datum.x<591"}],"mark":{"type":"rect","width":20,"height":23,"xOffset":10,"yOffset":0.5,"opacity":0.5}},{"transform":[{"filter":"datum.y<232"}],"mark":{"type":"rect","width":20,"height":23,"yOffset":11.5,"opacity":0.333}},{"transform":[{"filter":"datum.x<591&&datum.y<232"}],"mark":{"type":"rect","width":20,"height":23,"xOffset":10,"yOffset":11.5,"opacity":0.25}}]},
{"data":{"name":"p3"},"layer":[{"mark":{"type":"rect","width":22,"height":24}},{"transform":[{"filter":"datum.x<726"}],"mark":{"type":"rect","width":22,"height":24,"xOffset":11,"opacity":0.5}},{"transform":[{"filter":"datum.y<232"}],"mark":{"type":"rect","width":22,"height":24,"yOffset":12,"opacity":0.333}},{"transform":[{"filter":"datum.x<726&&datum.y<232"}],"mark":{"type":"rect","width":22,"height":24,"xOffset":11,"yOffset":12,"opacity":0.25}}]},
{"data":{"name":"p4"},"layer":[{"mark":{"type":"rect","width":20,"height":23,"yOffset":0.5}},{"transform":[{"filter":"datum.x<429"}],"mark":{"type":"rect","width":20,"height":23,"xOffset":10,"yOffset":0.5,"opacity":0.5}},{"transform":[{"filter":"datum.y<390"}],"mark":{"type":"rect","width":20,"height":23,"yOffset":11.5,"opacity":0.333}},{"transform":[{"filter":"datum.x<429&&datum.y<390"}],"mark":{"type":"rect","width":20,"height":23,"xOffset":10,"yOffset":11.5,"opacity":0.25}}]},
{"data":{"name":"p5"},"layer":[{"mark":{"type":"rect","width":12,"height":21,"yOffset":0.5}},{"transform":[{"filter":"datum.x<432"}],"mark":{"type":"rect","width":12,"height":21,"xOffset":6,"yOffset":0.5,"opacity":0.5}}]},
{"data":{"name":"p6"},"layer":[{"mark":{"type":"rect","width":20,"height":23,"yOffset":0.5}},{"transform":[{"filter":"datum.x<429"}],"mark":{"type":"rect","width":20,"height":23,"xOffset":10,"yOffset":0.5,"opacity":0.5}},{"transform":[{"filter":"datum.y<647"}],"mark":{"type":"rect","width":20,"height":23,"yOffset":11.5,"opacity":0.333}},{"transform":[{"filter":"datum.x<429&&datum.y<647"}],"mark":{"type":"rect","width":20,"height":23,"xOffset":10,"yOffset":11.5,"opacity":0.25}}]},
{"data":{"name":"p7"},"layer":[{"mark":{"type":"rect","width":20,"height":23,"yOffset":0.5}},{"transform":[{"filter":"datum.x<429"}],"mark":{"type":"rect","width":20,"height":23,"xOffset":10,"yOffset":0.5,"opacity":0.5}},{"transform":[{"filter":"datum.y<789"}],"mark":{"type":"rect","width":20,"height":23,"yOffset":11.5,"opacity":0.333}},{"transform":[{"filter":"datum.x<429&&datum.y<789"}],"mark":{"type":"rect","width":20,"height":23,"xOffset":10,"yOffset":11.5,"opacity":0.25}}]},
{"data":{"name":"p8"},"layer":[{"mark":{"type":"rect","width":20,"height":23,"yOffset":0.5}},{"transform":[{"filter":"datum.x<591"}],"mark":{"type":"rect","width":20,"height":23,"xOffset":10,"yOffset":0.5,"opacity":0.5}},{"transform":[{"filter":"datum.y<807"}],"mark":{"type":"rect","width":20,"height":23,"yOffset":11.5,"opacity":0.333}},{"transform":[{"filter":"datum.x<591&&datum.y<807"}],"mark":{"type":"rect","width":20,"height":23,"xOffset":10,"yOffset":11.5,"opacity":0.25}}]},
{"data":{"name":"p9"},"layer":[{"mark":{"type":"rect","width":22,"height":24}},{"transform":[{"filter":"datum.x<726"}],"mark":{"type":"rect","width":22,"height":24,"xOffset":11,"opacity":0.5}},{"transform":[{"filter":"datum.y<789"}],"mark":{"type":"rect","width":22,"height":24,"yOffset":12,"opacity":0.333}},{"transform":[{"filter":"datum.x<726&&datum.y<789"}],"mark":{"type":"rect","width":22,"height":24,"xOffset":11,"yOffset":12,"opacity":0.25}}]},
{"data":{"name":"p10"},"layer":[{"mark":{"type":"rect","width":18,"height":21,"yOffset":0.5}},{"transform":[{"filter":"datum.x<892"}],"mark":{"type":"rect","width":18,"height":21,"xOffset":9,"yOffset":0.5,"opacity":0.5}},{"transform":[{"filter":"datum.y<392"}],"mark":{"type":"rect","width":18,"height":21,"yOffset":10.5,"opacity":0.333}},{"transform":[{"filter":"datum.x<892&&datum.y<392"}],"mark":{"type":"rect","width":18,"height":21,"xOffset":9,"yOffset":10.5,"opacity":0.25}}]},
{"data":{"name":"p11"},"layer":[{"mark":{"type":"rect","width":18,"height":25,"yOffset":0.5}},{"transform":[{"filter":"datum.x<892"}],"mark":{"type":"rect","width":18,"height":25,"xOffset":9,"yOffset":0.5,"opacity":0.5}},{"transform":[{"filter":"datum.y<518"}],"mark":{"type":"rect","width":18,"height":25,"yOffset":12.5,"opacity":0.333}},{"transform":[{"filter":"datum.x<892&&datum.y<518"}],"mark":{"type":"rect","width":18,"height":25,"xOffset":9,"yOffset":12.5,"opacity":0.25}}]},
{"data":{"name":"p12"},"layer":[{"mark":{"type":"rect","width":18,"height":25,"yOffset":0.5}},{"transform":[{"filter":"datum.x<892"}],"mark":{"type":"rect","width":18,"height":25,"xOffset":9,"yOffset":0.5,"opacity":0.5}},{"transform":[{"filter":"datum.y<647"}],"mark":{"type":"rect","width":18,"height":25,"yOffset":12.5,"opacity":0.333}},{"transform":[{"filter":"datum.x<892&&datum.y<647"}],"mark":{"type":"rect","width":18,"height":25,"xOffset":9,"yOffset":12.5,"opacity":0.25}}]},
{"data":{"name":"p13"},"layer":[{"mark":{"type":"rect","width":18,"height":23,"yOffset":0.5}},{"transform":[{"filter":"datum.x<892"}],"mark":{"type":"rect","width":18,"height":23,"xOffset":9,"yOffset":0.5,"opacity":0.5}},{"transform":[{"filter":"datum.y<790"}],"mark":{"type":"rect","width":18,"height":23,"yOffset":11.5,"opacity":0.333}},{"transform":[{"filter":"datum.x<892&&datum.y<790"}],"mark":{"type":"rect","width":18,"height":23,"xOffset":9,"yOffset":11.5,"opacity":0.25}}]},
{"data":{"name":"masks"},"transform":[{"window":[{"op":"row_number","as":"o"}]}],"mark":{"type":"line","strokeWidth":4,"strokeCap":"butt"},"encoding":{"color":{"value":"#ffffff"},"detail":{"field":"c"},"order":{"field":"o","type":"quantitative"}}},
{"data":{"name":"diag"},"transform":[{"window":[{"op":"row_number","as":"o"}]}],"mark":{"type":"line","strokeWidth":1,"strokeDash":[7,4]},"encoding":{"color":{"value":"#d8d8d8"},"detail":{"field":"c"},"order":{"field":"o","type":"quantitative"}}},
{"data":{"name":"walls"},"transform":[{"window":[{"op":"row_number","as":"o"}]}],"mark":{"type":"line","strokeWidth":1.5},"encoding":{"color":{"value":"#d4d4d4"},"detail":{"field":"c"},"order":{"field":"o","type":"quantitative"}}},
{"data":{"name":"contours"},"transform":[{"window":[{"op":"row_number","as":"o"}]}],"mark":{"type":"line","strokeWidth":0.8,"opacity":0.65,"interpolate":"cardinal"},"encoding":{"color":{"value":"#06283a"},"detail":{"field":"c"},"order":{"field":"o","type":"quantitative"}}},
{"data":{"name":"lh"},"mark":{"type":"text","font":"Liberation Sans","fontSize":11,"align":"center","baseline":"middle"},"encoding":{"text":{"field":"t"},"color":{"value":"#000000"}}},
{"data":{"name":"lv"},"mark":{"type":"text","font":"Liberation Sans","fontSize":11,"align":"center","baseline":"middle","angle":270},"encoding":{"text":{"field":"t"},"color":{"value":"#000000"}}},
{"data":{"name":"lp"},"mark":{"type":"text","font":"Liberation Sans","fontSize":11,"align":"center","baseline":"middle","angle":60},"encoding":{"text":{"field":"t"},"color":{"value":"#000000"}}},
{"data":{"name":"ln"},"mark":{"type":"text","font":"Liberation Sans","fontSize":11,"align":"center","baseline":"middle","angle":300},"encoding":{"text":{"field":"t"},"color":{"value":"#000000"}}}
]}
